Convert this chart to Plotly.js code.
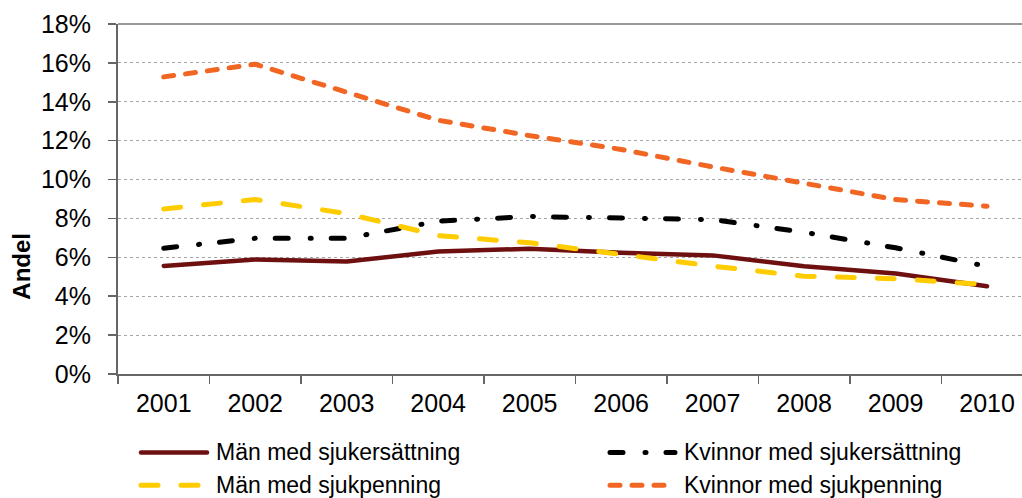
<!DOCTYPE html>
<html>
<head>
<meta charset="utf-8">
<script src="https://cdn.plot.ly/plotly-3.0.1.min.js"></script>
<style>
  html, body { margin: 0; padding: 0; background: #fff; }
  #chart { width: 1022px; height: 498px; }
  #chart .scatterlayer path.js-line { stroke-linecap: round; stroke-linejoin: round; }
  #chart .shapelayer path.legline { stroke-linecap: round; }
</style>
</head>
<body>
<div id="chart"></div>
<script>
// ---- Data (percent) ----
const years = ['2001','2002','2003','2004','2005','2006','2007','2008','2009','2010'];
const manSjukersattning     = [5.56, 5.89, 5.78, 6.30, 6.44, 6.23, 6.10, 5.54, 5.17, 4.51];
const kvinnorSjukersattning = [6.47, 6.98, 6.98, 7.86, 8.10, 8.01, 7.94, 7.29, 6.49, 5.54];
const manSjukpenning        = [8.49, 8.97, 8.25, 7.12, 6.75, 6.14, 5.55, 5.03, 4.90, 4.60];
const kvinnorSjukpenning    = [15.28, 15.93, 14.49, 13.05, 12.26, 11.55, 10.65, 9.78, 8.97, 8.63];
const seriesNames = ['Män med sjukersättning', 'Kvinnor med sjukersättning', 'Män med sjukpenning', 'Kvinnor med sjukpenning'];
const yTickVals = [0, 2, 4, 6, 8, 10, 12, 14, 16, 18];

const FONT = '"Liberation Sans", Arial, sans-serif';

// dash lengths account for round caps (width adds to each dash)
const styles = [
  {color: '#6E1010', width: 4.5, dash: 'solid'},
  {color: '#000000', width: 5,   dash: '13px,22px,1px,20px'},
  {color: '#FFCC00', width: 5,   dash: '17px,23px'},
  {color: '#F26624', width: 5,   dash: '10px,12px'}
];
const values = [manSjukersattning, kvinnorSjukersattning, manSjukpenning, kvinnorSjukpenning];

const traces = values.map((v, i) => ({
  type: 'scatter', mode: 'lines',
  x: years, y: v, name: seriesNames[i],
  line: {color: styles[i].color, width: styles[i].width, dash: styles[i].dash},
  hoverinfo: 'x+y+name',
  showlegend: false
}));

// manual legend (2 columns x 2 rows), positions in paper coords
const plotLeft = 118, plotW = 904, plotTop = 24, plotH = 350.5;
const px = v => (v - plotLeft) / plotW;
const py = v => (plotTop + plotH - v) / plotH;
const legendPos = [
  {x0: 141, x1: 207, y: 453, tx: 214},
  {x0: 610, x1: 675, y: 453, tx: 682},
  {x0: 141, x1: 207, y: 486, tx: 214},
  {x0: 610, x1: 675, y: 486, tx: 682}
];
const shapes = [
  // top border of plot area (18% line)
  {type: 'line', xref: 'paper', yref: 'paper', x0: 0, x1: 1, y0: 1, y1: 1,
   line: {color: '#999999', width: 2}}
];
const annotations = [
  {text: '<b>Andel</b>', xref: 'paper', yref: 'paper', x: px(22), y: py(267),
   textangle: -90, showarrow: false, xanchor: 'center', yanchor: 'middle',
   font: {family: FONT, size: 24, color: '#000'}}
];
legendPos.forEach((p, i) => {
  shapes.push({type: 'line', xref: 'paper', yref: 'paper',
    x0: px(p.x0), x1: px(p.x1), y0: py(p.y), y1: py(p.y),
    line: {color: styles[i].color, width: styles[i].width, dash: styles[i].dash}});
  annotations.push({text: seriesNames[i], xref: 'paper', yref: 'paper',
    x: px(p.tx), y: py(p.y), xanchor: 'left', yanchor: 'middle', showarrow: false,
    font: {family: FONT, size: 23, color: '#000'}});
});

const layout = {
  width: 1022, height: 498,
  margin: {l: 118, r: 0, t: 24, b: 123.5, pad: 0},
  paper_bgcolor: '#ffffff', plot_bgcolor: '#ffffff',
  font: {family: FONT, size: 25, color: '#000'},
  showlegend: false,
  xaxis: {
    type: 'category',
    range: [-0.5, 9.382],
    tickson: 'boundaries',
    ticks: 'outside', ticklen: 8, tickwidth: 1.5, tickcolor: '#666',
    showline: true, linecolor: '#666', linewidth: 2,
    showgrid: false, zeroline: false,
    tickfont: {family: FONT, size: 25, color: '#000'},
    ticklabelstandoff: 6
  },
  yaxis: {
    range: [0, 18],
    tickvals: yTickVals,
    ticktext: yTickVals.map(v => v + '%'),
    ticks: 'outside', ticklen: 8, tickwidth: 1.5, tickcolor: '#666',
    showline: true, linecolor: '#666', linewidth: 2,
    showgrid: true, gridcolor: '#a6a6a6', gridwidth: 1, griddash: 'dot',
    zeroline: false,
    tickfont: {family: FONT, size: 25, color: '#000'},
    ticklabelstandoff: 12
  },
  shapes: shapes,
  annotations: annotations
};

Plotly.newPlot('chart', traces, layout, {displayModeBar: false, staticPlot: true}).then(gd => {
  // round caps for legend sample lines (all shapes except the first, the border)
  const paths = gd.querySelectorAll('.shapelayer path');
  paths.forEach((p, k) => { if (k > 0) p.classList.add('legline'); });
});
</script>
</body>
</html>
